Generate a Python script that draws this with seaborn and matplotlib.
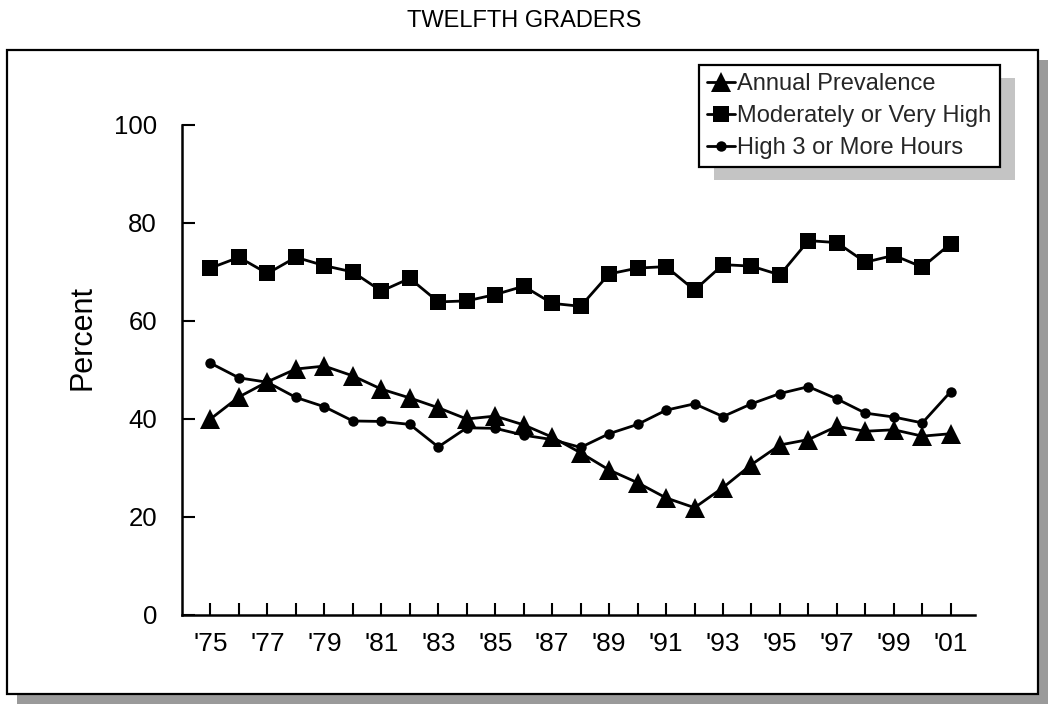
import matplotlib
matplotlib.use("Agg")
import matplotlib.pyplot as plt
from matplotlib.patches import Rectangle
from matplotlib.lines import Line2D
import seaborn as sns
import pandas as pd

# Survey years and twelfth-grader percentages
years = list(range(1975, 2002))
annual_prevalence = [40.0, 44.5, 47.6, 50.2, 50.8, 48.8, 46.1, 44.3, 42.3, 40.0,
                     40.6, 38.8, 36.3, 33.1, 29.6, 27.0, 23.9, 21.9, 26.0, 30.7,
                     34.7, 35.8, 38.5, 37.5, 37.8, 36.5, 37.0]
moderately_high = [70.8, 73.0, 69.7, 73.0, 71.3, 70.0, 66.1, 68.7, 63.9, 64.1,
                   65.4, 67.1, 63.6, 63.0, 69.6, 70.8, 71.1, 66.3, 71.5, 71.2,
                   69.4, 76.4, 76.0, 72.0, 73.4, 71.0, 75.8]
high_3_hours = [51.4, 48.4, 47.5, 44.4, 42.5, 39.6, 39.5, 38.9, 34.3, 38.2,
                38.1, 36.7, 35.8, 34.2, 37.0, 38.9, 41.8, 43.1, 40.5, 43.1,
                45.2, 46.6, 44.1, 41.2, 40.4, 39.2, 45.6]
series_names = ["Annual Prevalence", "Moderately or Very High", "High 3 or More Hours"]
tick_years = list(range(1975, 2002, 2))
y_ticks = [0, 20, 40, 60, 80, 100]

sns.set_theme(style="white")
plt.rcParams["font.family"] = ["Liberation Sans", "DejaVu Sans"]

W, H = 1049, 704
fig = plt.figure(figsize=(W / 100, H / 100), dpi=100)
fig.patch.set_facecolor("white")

def fx(px):
    return px / W

def fy(py):
    return 1 - py / H

# Outer frame with a stippled drop shadow
frame_l, frame_t, frame_r, frame_b = 7, 50, 1038, 694
fig.patches.append(Rectangle((fx(frame_l + 10), fy(frame_b + 10)),
                             fx(frame_r - frame_l), (frame_b - frame_t) / H,
                             transform=fig.transFigure, facecolor="#9a9a9a",
                             edgecolor="none", zorder=0))
fig.patches.append(Rectangle((fx(frame_l), fy(frame_b)),
                             fx(frame_r - frame_l), (frame_b - frame_t) / H,
                             transform=fig.transFigure, facecolor="white",
                             edgecolor="black", linewidth=1.6, zorder=0.5))

ax = fig.add_axes([fx(182), fy(615), fx(975 - 182), (615 - 125) / H])
ax.set_facecolor("none")
ax.set_zorder(3)

df = pd.DataFrame({
    "year": years * 3,
    "value": annual_prevalence + moderately_high + high_3_hours,
    "series": [series_names[0]] * len(years) + [series_names[1]] * len(years)
              + [series_names[2]] * len(years),
})

styles = {
    series_names[0]: dict(marker="^", markersize=15),
    series_names[1]: dict(marker="s", markersize=11),
    series_names[2]: dict(marker="o", markersize=7.5),
}
for name in series_names:
    sub = df[df["series"] == name]
    sns.lineplot(data=sub, x="year", y="value", ax=ax, color="black",
                 linewidth=2.0, markeredgewidth=0, markerfacecolor="black",
                 clip_on=False, legend=False, **styles[name])

ax.set_xlim(1974.0, 2001.85)
ax.set_ylim(0, 100)
ax.set_xticks(years)
ax.set_xticklabels(["'" + str(y)[2:] if y in tick_years else "" for y in years])
ax.set_yticks(y_ticks)
ax.set_yticklabels([str(v) for v in y_ticks])
ax.tick_params(axis="both", direction="in", length=9, width=1.5, color="black",
               labelcolor="black", left=True, bottom=True)
ax.tick_params(axis="y", pad=18, labelsize=18.5)
ax.tick_params(axis="x", pad=12, labelsize=19)
for side in ["top", "right"]:
    ax.spines[side].set_visible(False)
for side in ["left", "bottom"]:
    ax.spines[side].set_color("black")
    ax.spines[side].set_linewidth(1.8)
ax.set_xlabel("")
ax.set_ylabel("Percent", fontsize=22, color="black")
ax.yaxis.set_label_coords(-0.107, 0.567)

fig.text(0.5, fy(21), "TWELFTH GRADERS", ha="center", va="center",
         fontsize=17, color="black")

handles = [Line2D([], [], color="black", linewidth=2.0, markeredgewidth=0,
                  markerfacecolor="black", **styles[n]) for n in series_names]
leg = ax.legend(handles, series_names, loc="upper right",
                bbox_to_anchor=(fx(1000), fy(65)), bbox_transform=fig.transFigure,
                borderaxespad=0, frameon=True, fancybox=False, framealpha=1,
                edgecolor="black", fontsize=17, labelspacing=0.42,
                handlelength=1.2, handletextpad=0.1, borderpad=0.35,
                numpoints=1)
leg.get_frame().set_linewidth(1.6)

fig.canvas.draw()
bb = leg.get_window_extent()
fig.patches.append(Rectangle(((bb.x0 + 15) / W, (bb.y0 - 13) / H),
                             bb.width / W, bb.height / H,
                             transform=fig.transFigure, facecolor="#c4c4c4",
                             edgecolor="none", zorder=1))

fig.savefig("out.png", dpi=100)
